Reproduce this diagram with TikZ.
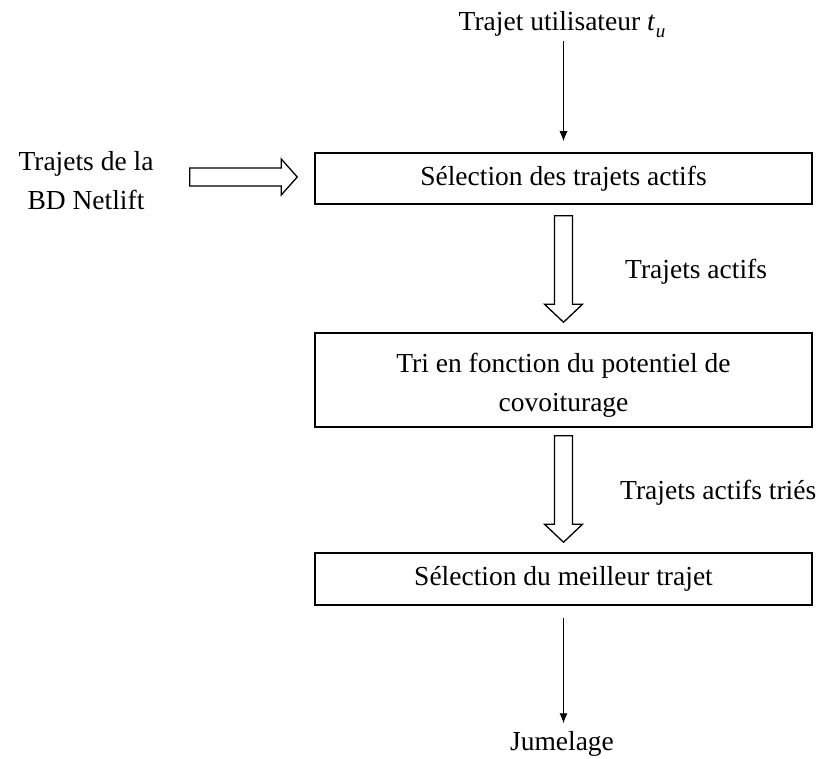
\documentclass[tikz,border=0pt]{standalone}
\usepackage{fontspec}
\setmainfont{Liberation Serif}
\usetikzlibrary{arrows.meta,calc}
\newcommand\diagfont{\fontsize{27.5pt}{39pt}\selectfont}
\begin{document}
\begin{tikzpicture}[x=1pt,y=-1pt,
  box/.style={draw,line width=1.5pt,minimum width=497pt,inner sep=0pt,align=center,font=\diagfont},
  lbl/.style={inner sep=0pt,font=\diagfont,align=center},
  thinarrow/.style={line width=1pt,-{Latex[length=10pt,width=8pt]}},
  hollow/.style={draw,line width=1.3pt,fill=white,line join=miter}]
\useasboundingbox (0,0) rectangle (822,759);

\node[lbl] (title) at (562,25) {Trajet utilisateur \textit{t}\kern0.5pt\raisebox{-0.25em}{\fontsize{19pt}{20pt}\selectfont\textit{u}}};
\node[box,minimum height=51pt] (b1) at (563.5,178.5) {Sélection des trajets actifs};
\node[box,minimum height=94pt] (b2) at (563.5,380) {};
\node[lbl] (b2t) at (563.5,385) {Tri en fonction du potentiel de\\covoiturage};
\node[box,minimum height=52pt] (b3) at (563.5,579) {Sélection du meilleur trajet};
\node[lbl] (src) at (86,181) {Trajets de la\\BD Netlift};
\node[lbl,anchor=west] (l1) at (625,272) {Trajets actifs};
\node[lbl,anchor=west] (l2) at (620,493) {Trajets actifs triés};
\node[lbl] (out) at (562,744) {Jumelage};

% thin arrows
\draw[thinarrow] (title.south -| b1.north) ++(0,3) -- ([yshift=11pt]b1.north);
\draw[thinarrow] ([yshift=-12pt]b3.south) -- ([yshift=8pt]out.north -| b3.south);

% hollow vertical arrows
\draw[hollow] let \p1=($(b1.south)+(0,11)$), \p2=($(b2.north)+(0,-10)$) in
  (\x1-9pt,\y1) -- (\x1+9pt,\y1) -- (\x1+9pt,\y2+18pt) -- (\x1+19pt,\y2+18pt)
  -- (\x1,\y2) -- (\x1-19pt,\y2+18pt) -- (\x1-9pt,\y2+18pt) -- cycle;
\draw[hollow] let \p1=($(b2.south)+(0,8)$), \p2=($(b3.north)+(0,-10)$) in
  (\x1-9pt,\y1) -- (\x1+9pt,\y1) -- (\x1+9pt,\y2+18pt) -- (\x1+19pt,\y2+18pt)
  -- (\x1,\y2) -- (\x1-19pt,\y2+18pt) -- (\x1-9pt,\y2+18pt) -- cycle;

% hollow horizontal arrow
\draw[hollow] let \p1=($(src.east)+(36,0)$), \p2=($(b1.west)+(-17,-1.5)$) in
  (\x1,\y2+9pt) -- (\x2-16pt,\y2+9pt) -- (\x2-16pt,\y2+18pt) -- (\x2,\y2)
  -- (\x2-16pt,\y2-18pt) -- (\x2-16pt,\y2-9pt) -- (\x1,\y2-9pt) -- cycle;
\end{tikzpicture}
\end{document}
